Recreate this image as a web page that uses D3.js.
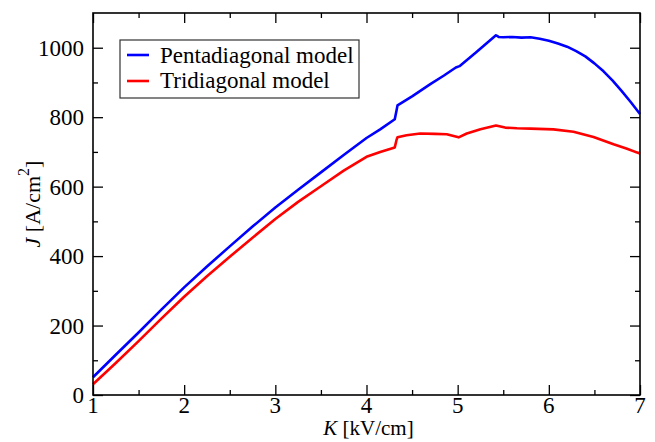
<!DOCTYPE html>
<html>
<head>
<meta charset="utf-8">
<script src="https://cdn.jsdelivr.net/npm/d3@7"></script>
<style>
  body { margin: 0; background: white; }
  text { font-family: "Liberation Serif", "Times New Roman", serif; }
</style>
</head>
<body>
<div id="chart"></div>
<script>
// K [kV/cm] and J [A/cm^2]
const pentaK = [1.0, 1.25, 1.5, 1.75, 2.0, 2.25, 2.5, 2.75, 3.0, 3.25, 3.5, 3.75, 4.0, 4.15, 4.31, 4.33, 4.34, 4.5, 4.7, 4.85, 4.98, 5.02, 5.2, 5.42, 5.45, 5.5, 5.6, 5.7, 5.8, 5.9, 6.0, 6.1, 6.2, 6.3, 6.4, 6.5, 6.6, 6.7, 6.8, 6.9, 7.0];
const pentaJ = [51, 116, 180, 246, 310, 370, 428, 485, 540, 591, 641, 691, 740, 765, 794, 820, 834, 860, 895, 920, 943, 947, 986, 1036, 1031, 1030, 1031, 1029, 1030, 1026, 1020, 1012, 1003, 990, 975, 955, 932, 905, 875, 843, 809];

const triK = [1.0, 1.25, 1.5, 1.75, 2.0, 2.25, 2.5, 2.75, 3.0, 3.25, 3.5, 3.75, 3.9, 4.0, 4.15, 4.31, 4.33, 4.34, 4.44, 4.59, 4.75, 4.88, 5.01, 5.1, 5.25, 5.42, 5.52, 5.65, 5.8, 6.05, 6.27, 6.49, 6.71, 6.85, 7.0];
const triJ = [31, 92, 155, 220, 283, 342, 398, 453, 507, 556, 601, 646, 670, 686, 700, 713, 735, 742, 748, 753, 752, 751, 742, 753, 765, 776, 770, 768, 767, 765, 758, 743, 722, 710, 695];

const seriesNames = ['Pentadiagonal model', 'Tridiagonal model'];
const seriesColors = ['#0000ff', '#ff0000'];

const xTicks = [1, 2, 3, 4, 5, 6, 7];
const yTicks = [0, 200, 400, 600, 800, 1000];

const width = 655, height = 442;
const margin = { top: 13, right: 15, bottom: 47, left: 93 };
const iw = width - margin.left - margin.right;
const ih = height - margin.top - margin.bottom;

const svg = d3.select('#chart').append('svg')
  .attr('width', width)
  .attr('height', height);

const g = svg.append('g').attr('transform', `translate(${margin.left},${margin.top})`);

const x = d3.scaleLinear().domain([1, 7]).range([0, iw]);
const y = d3.scaleLinear().domain([0, 1100]).range([ih, 0]);

// ticks pointing inward on all four sides
const minorX = d3.range(1.5, 7, 1);
const minorY = d3.range(100, 1100, 200);

function tickAxis(axis, ticks, len) {
  return axis.tickValues(ticks).tickSize(len).tickFormat('');
}

g.append('g').attr('transform', `translate(0,${ih})`).call(tickAxis(d3.axisTop(x), xTicks, 10));
g.append('g').attr('transform', `translate(0,${ih})`).call(tickAxis(d3.axisTop(x), minorX, 5));
g.append('g').call(tickAxis(d3.axisBottom(x), xTicks, 10));
g.append('g').call(tickAxis(d3.axisBottom(x), minorX, 5));
g.append('g').call(tickAxis(d3.axisRight(y), yTicks, 10));
g.append('g').call(tickAxis(d3.axisRight(y), minorY, 5));
g.append('g').attr('transform', `translate(${iw},0)`).call(tickAxis(d3.axisLeft(y), yTicks, 10));
g.append('g').attr('transform', `translate(${iw},0)`).call(tickAxis(d3.axisLeft(y), minorY, 5));
g.selectAll('.domain').remove();
g.selectAll('.tick line').attr('stroke', '#000').attr('stroke-width', 1.3);

// tick labels
g.append('g').selectAll('text')
  .data(xTicks).enter().append('text')
  .attr('x', d => x(d))
  .attr('y', ih + 18)
  .attr('text-anchor', 'middle')
  .style('font-size', '23px')
  .text(d => d);

g.append('g').selectAll('text')
  .data(yTicks).enter().append('text')
  .attr('x', -9)
  .attr('y', d => y(d) + 8)
  .attr('text-anchor', 'end')
  .style('font-size', '23px')
  .text(d => d);

// lines
const line = d3.line().x(d => x(d[0])).y(d => y(d[1]));
const seriesData = [
  d3.zip(pentaK, pentaJ),
  d3.zip(triK, triJ)
];
g.append('g').selectAll('path')
  .data(seriesData).enter().append('path')
  .attr('d', line)
  .attr('fill', 'none')
  .attr('stroke', (d, i) => seriesColors[i])
  .attr('stroke-width', 2.6)
  .attr('stroke-linejoin', 'round');

// frame
g.append('rect')
  .attr('width', iw).attr('height', ih)
  .attr('fill', 'none')
  .attr('stroke', '#000')
  .attr('stroke-width', 1.6);

// axis labels
const xl = svg.append('text')
  .attr('x', margin.left + iw / 2 + 2)
  .attr('y', 435)
  .attr('text-anchor', 'middle')
  .style('font-size', '21px');
xl.append('tspan').style('font-style', 'italic').text('K');
xl.append('tspan').text(' [kV/cm]');

const yl = svg.append('text')
  .attr('transform', `translate(40,${margin.top + ih / 2}) rotate(-90)`)
  .attr('text-anchor', 'middle')
  .style('font-size', '22px');
yl.append('tspan').style('font-style', 'italic').text('J');
yl.append('tspan').text(' [A/cm');
yl.append('tspan').attr('dy', -11).style('font-size', '16px').text('2');
yl.append('tspan').attr('dy', 11).text(']');

// legend
const lg = svg.append('g').attr('transform', 'translate(120,40)');
lg.append('rect')
  .attr('width', 239).attr('height', 58)
  .attr('fill', 'white')
  .attr('stroke', '#333')
  .attr('stroke-width', 1.2);
seriesNames.forEach((name, i) => {
  lg.append('line')
    .attr('x1', 7).attr('x2', 29)
    .attr('y1', 15 + i * 26).attr('y2', 15 + i * 26)
    .attr('stroke', seriesColors[i])
    .attr('stroke-width', 2.6);
  lg.append('text')
    .attr('x', 40)
    .attr('y', 22.5 + i * 25)
    .style('font-size', '23px')
    .text(name);
});
</script>
</body>
</html>
